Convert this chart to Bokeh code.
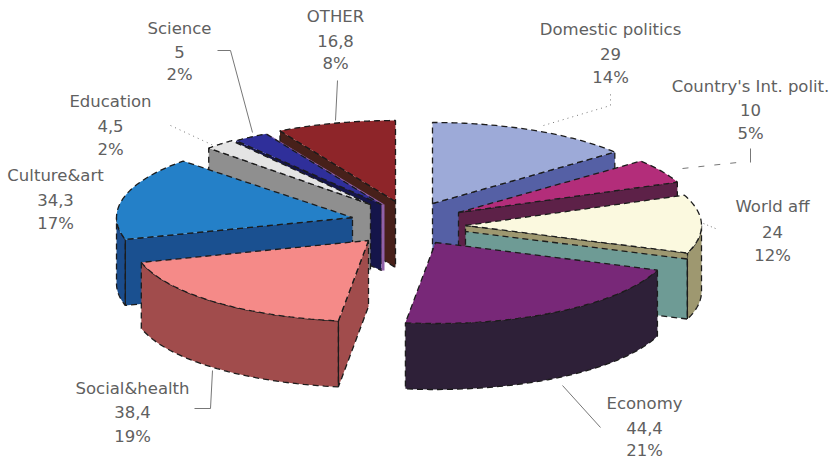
import numpy as np
from bokeh.plotting import figure
from bokeh.models import Range1d
from bokeh.core.properties import value
from bokeh.embed import file_html
from bokeh.resources import INLINE

categories = ["Domestic politics", "Country's Int. polit.", "World aff", "Economy",
              "Social&health", "Culture&art", "Education", "Science", "OTHER"]
values = [29, 10, 24, 44.4, 38.4, 34.3, 4.5, 5, 16.8]
value_labels = ["29", "10", "24", "44,4", "38,4", "34,3", "4,5", "5", "16,8"]
percent_labels = ["14%", "5%", "12%", "21%", "19%", "17%", "2%", "2%", "8%"]

top_colors = ["#9DAAD8", "#B32D7A", "#FBF9DF", "#782878", "#F58A88", "#2480C8", "#E4E4E4", "#2F2F9A", "#8E2529"]
wall_colors = ["#5560A5", "#5D2148", "#6E9B95", "#2E2038", "#A14C4C", "#1A5090", "#8F8F8F", "#15154A", "#47201A"]
rim_colors = ["#5560A5", "#5D2148", "#9E9870", "#2E2038", "#A14C4C", "#1A4C8C", "#8F8F8F", "#15154A", "#47201A"]

# layout (page pixels): explosion apex of each slice, radius scale, label centre x and rows
RX, RY, DEPTH = 236.0, 81.0, 66.0
apex = [(432, 203), (458, 212), (465, 225), (435, 242), (368, 240), (352, 217), (370, 204), (381, 204), (395, 201)]
rx_scale = [1, 1, 1, 1, 1, 1, 0.955, 1, 1]
label_x = [610, 750, 772, 644, 132, 55, 110, 179, 335]
label_y = [(29, 53, 77), (86, 109, 133), (206, 231, 255), (403, 427, 450), (388, 411, 436),
           (175, 199, 223), (101, 125, 149), (28, 51, 74), (16, 40, 63)]
leaders = [
    ([543, 610, 610], [125, 105, 93], "1 4"),
    ([682, 737], [168, 162], "6 10"),
    ([703, 715], [223, 228], "1 3"),
    ([562, 600], [385, 427], "solid"),
    ([194, 210, 212], [408, 408, 370], "solid"),
    ([170, 213], [125, 145], "1 4"),
    ([217, 230, 252], [50, 50, 132], "solid"),
    ([337, 335], [80, 120], "solid"),
    ([750, 750], [148, 162], "solid"),
]
draw_order = [8, 7, 6, 5, 4, 0, 1, 2, 3]

p = figure(width=834, height=461, output_backend="svg", toolbar_location=None,
           x_range=Range1d(0, 834), y_range=Range1d(461, 0), min_border=0)
p.axis.visible = False
p.grid.visible = False
p.outline_line_color = None

vals = np.array(values, dtype=float)
edges = np.concatenate([[0], np.cumsum(vals)]) / vals.sum() * 360.0


def arc(i, a, b, n=40):
    th = np.radians(np.linspace(a, b, n))
    ax, ay = apex[i]
    return ax + RX * rx_scale[i] * np.sin(th), ay - RY * np.cos(th)


OUT = dict(line_color="#1c1c1c", line_width=1.3, line_dash="6 4")

for i in draw_order:
    a, b = edges[i], edges[i + 1]
    ax, ay = apex[i]
    # radial wall
    wall_angle = b if b < 180 else (a if a > 180 else None)
    if wall_angle is not None:
        ex, ey = arc(i, wall_angle, wall_angle, 1)
        wx = [ax, ex[0], ex[0], ax]
        wy = [ay, ey[0], ey[0] + DEPTH, ay + DEPTH]
        p.patch(wx, wy, fill_color=wall_colors[i], **OUT)
    # outer rim, only the part facing the viewer
    lo, hi = max(a, 90), min(b, 270)
    if hi > lo:
        rx_, ry_ = arc(i, lo, hi)
        p.patch(list(rx_) + list(rx_[::-1]), list(ry_) + list(ry_[::-1] + DEPTH),
                fill_color=rim_colors[i], **OUT)
        if wall_angle is not None:
            ex, ey = arc(i, wall_angle, wall_angle, 1)
            p.line([ex[0], ex[0]], [ey[0], ey[0] + DEPTH], line_color="#1c1c1c", line_width=1.2)
    # World's tan band along the top of its wall
    if categories[i] == "World aff":
        ex, ey = arc(i, b, b, 1)
        p.patch([ax, ex[0], ex[0], ax], [ay, ey[0], ey[0] + 6, ay + 6], fill_color=rim_colors[i], **OUT)
    # Science's purple strip
    if categories[i] == "Science":
        ex, ey = arc(i, b, b, 1)
        p.patch([ax, ax + 3, ax + 3, ax], [ay, ay, ay + DEPTH, ay + DEPTH], fill_color="#9060A8", line_color=None)
        p.patch([ax, ex[0], ex[0] + 3, ax + 3], [ay, ey[0], ey[0] + 1, ay], fill_color="#9060A8", line_color=None)
    # top face
    tx, ty = arc(i, a, b)
    p.patch([ax] + list(tx), [ay] + list(ty), fill_color=top_colors[i], **OUT)

for x, y, dash in leaders:
    p.line(x, y, line_color="#777777", line_width=1, line_dash=dash)

for i, name in enumerate(categories):
    rows = [name, value_labels[i], percent_labels[i]]
    p.text([label_x[i]] * 3, list(label_y[i]), text=rows, text_align="center", text_baseline="middle",
           text_font=value("DejaVu Sans"), text_font_size="16.5px", text_color="#606060")

open("out.html", "w").write(file_html(p, INLINE))
